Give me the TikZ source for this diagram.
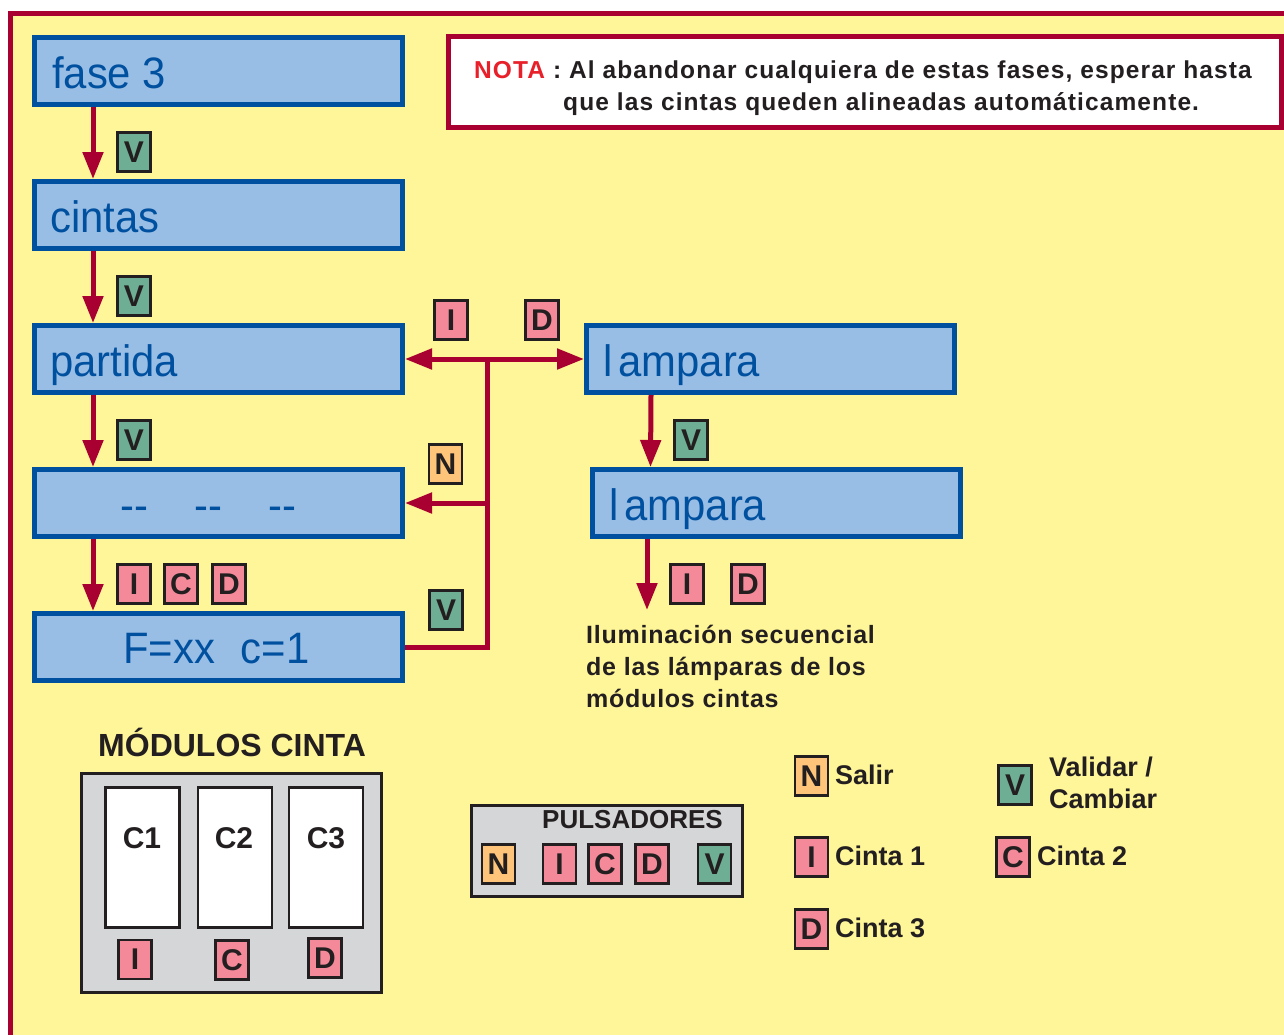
\documentclass[tikz,border=0pt]{standalone}
\usepackage{fontspec}
\setmainfont{Liberation Sans}
\newfontfamily\lcdfont[FakeStretch=0.95]{Liberation Sans}
\newfontfamily\notafont[LetterSpace=4.5]{Liberation Sans}
\newfontfamily\ilumfont[LetterSpace=3]{Liberation Sans}
\usetikzlibrary{arrows.meta}
\definecolor{framered}{RGB}{168,0,48}
\definecolor{bgyellow}{RGB}{255,245,153}
\definecolor{boxblue}{RGB}{0,80,160}
\definecolor{boxfill}{RGB}{153,190,229}
\definecolor{keyline}{RGB}{35,31,32}
\definecolor{keypink}{RGB}{244,138,153}
\definecolor{keygreen}{RGB}{110,174,148}
\definecolor{keyorange}{RGB}{253,196,122}
\definecolor{greyfill}{RGB}{213,214,216}
\definecolor{notared}{RGB}{232,32,42}
\begin{document}
\begin{tikzpicture}[x=1pt,y=-1pt,
  bluebox/.style={draw=boxblue, fill=boxfill, line width=5pt, minimum width=368pt, minimum height=67pt, inner sep=0pt},
  boxtext/.style={anchor=base west, inner sep=0pt, text=boxblue, font=\lcdfont\fontsize{44}{50}\selectfont},
  keybase/.style={draw=keyline, line width=2.5pt, minimum width=33pt, minimum height=39pt, inner sep=0pt, text=keyline, font=\bfseries\fontsize{30}{30}\selectfont},
  pinkkey/.style={keybase, fill=keypink},
  greenkey/.style={keybase, fill=keygreen},
  orangekey/.style={keybase, fill=keyorange},
  arr/.style={draw=framered, line width=5pt, -{Triangle[length=27pt,width=20pt]}},
  darr/.style={draw=framered, line width=5pt, {Triangle[length=27pt,width=20pt]}-{Triangle[length=27pt,width=20pt]}},
  redline/.style={draw=framered, line width=5pt},
  boldtext/.style={anchor=base west, inner sep=0pt, text=keyline, font=\ilumfont\bfseries\fontsize{25}{30}\selectfont},
  notatext/.style={anchor=base west, inner sep=0pt, text=keyline, font=\notafont\bfseries\fontsize{24.5}{28}\selectfont},
  legtext/.style={anchor=base west, inner sep=0pt, text=keyline, font=\bfseries\fontsize{27}{32}\selectfont},
  greybox/.style={draw=keyline, fill=greyfill, line width=3pt, inner sep=0pt},
  slot/.style={draw=keyline, fill=white, line width=2.5pt, inner sep=0pt, minimum width=74pt, minimum height=140pt}
]
\useasboundingbox (0,0) rectangle (1284,1034);
\fill[white] (0,0) rectangle (1284,1034);
\draw[draw=framered, fill=bgyellow, line width=5.5pt] (10.5,13.5) rectangle (1300,1050);

% NOTA box
\node[draw=framered, fill=white, line width=5pt, minimum width=833pt, minimum height=91pt, inner sep=0pt] (nota) at (865,82) {};
\node[notatext] (nota1) at (474,78) {\textcolor{notared}{NOTA} : Al abandonar cualquiera de estas fases, esperar hasta};
\node[notatext] (nota2) at (563,110) {que las cintas queden alineadas automáticamente.};

% blue boxes
\node[bluebox] (fase) at (218.5,71) {};
\node[bluebox] (cintas) at (218.5,215) {};
\node[bluebox] (partida) at (218.5,359) {};
\node[bluebox] (dash) at (218.5,503) {};
\node[bluebox] (fx) at (218.5,647) {};
\node[bluebox] (lamp1) at (770.5,359) {};
\node[bluebox] (lamp2) at (776,503) {};

\node[boxtext] (fasetxt) at (52,88) {fase 3};
\node[boxtext] (cintastxt) at (50,232) {cintas};
\node[boxtext] (partidatxt) at (50,376) {partida};
\node[boxtext, anchor=base] (dashtxt) at (208.5,520) {-{}-\hspace{46pt}-{}-\hspace{46pt}-{}-};
\node[boxtext] (fxtxt) at (123,663) {F=xx\hspace{26pt}c=1};
\node[boxtext] (lamp1txt) at (603,376) {l\hspace{6pt}ampara};
\node[boxtext] (lamp2txt) at (609,520) {l\hspace{6pt}ampara};

% vertical arrows
\draw[arr] ([xshift=61pt]fase.south west) -- ([xshift=61pt]cintas.north west);
\draw[arr] ([xshift=61pt]cintas.south west) -- ([xshift=61pt]partida.north west);
\draw[arr] ([xshift=61pt]partida.south west) -- ([xshift=61pt]dash.north west);
\draw[arr] ([xshift=61pt]dash.south west) -- ([xshift=61pt]fx.north west);
\draw[arr] ([xshift=67pt]lamp1.south west) -- ([xshift=61pt]lamp2.north west);
\coordinate (lampend) at (647,610);
\draw[arr] (lampend |- lamp2.south) -- (lampend);

% branching connector
\coordinate (J) at (487,359);
\draw[darr] (partida.east) -- (lamp1.west);
\draw[redline] (fx.east) -| (J);
\draw[arr] (J |- dash.east) -- (dash.east);

% keys on arrows
\node[greenkey] (v1) at (134,152) {V};
\node[greenkey] (v2) at (134,296) {V};
\node[greenkey] (v3) at (134,440) {V};
\node[pinkkey] (i1) at (134,584) {I};
\node[pinkkey] (c1) at (181,584) {C};
\node[pinkkey] (d1) at (229,584) {D};
\node[pinkkey] (i2) at (451,320) {I};
\node[pinkkey] (d2) at (542,320) {D};
\node[orangekey] (n1) at (445.5,464) {N};
\node[greenkey] (v4) at (446,610) {V};
\node[greenkey] (v5) at (691,440) {V};
\node[pinkkey] (i3) at (687,584) {I};
\node[pinkkey] (d3) at (748,584) {D};

% illumination text
\node[boldtext] (ilum1) at (586,643) {Iluminación secuencial};
\node[boldtext] (ilum2) at (586,675) {de las lámparas de los};
\node[boldtext] (ilum3) at (586,707) {módulos cintas};

% modules
\node[anchor=base west, inner sep=0pt, text=keyline, font=\bfseries\fontsize{32}{36}\selectfont] (modtitle) at (98,756) {MÓDULOS CINTA};
\node[greybox, minimum width=300pt, minimum height=219pt] (mod) at (231.5,883) {};
\node[slot] (s1) at (142.5,857.5) {};
\node[slot] (s2) at (235,857.5) {};
\node[slot] (s3) at (326,857.5) {};
\node[text=keyline, font=\bfseries\fontsize{30}{30}\selectfont, inner sep=0pt] (c1lab) at (142,838) {C1};
\node[text=keyline, font=\bfseries\fontsize{30}{30}\selectfont, inner sep=0pt] (c2lab) at (234,838) {C2};
\node[text=keyline, font=\bfseries\fontsize{30}{30}\selectfont, inner sep=0pt] (c3lab) at (326,838) {C3};
\node[pinkkey] (mi) at (135,959.5) {I};
\node[pinkkey] (mc) at (232,960) {C};
\node[pinkkey] (md) at (325,958) {D};

% pulsadores
\node[greybox, minimum width=271pt, minimum height=91pt] (puls) at (607,851) {};
\node[anchor=base west, inner sep=0pt, text=keyline, font=\bfseries\fontsize{26}{30}\selectfont] (pulstitle) at (542,828) {PULSADORES};
\node[orangekey] (pn) at (498.5,864) {N};
\node[pinkkey] (pi) at (559.5,864) {I};
\node[pinkkey] (pc) at (605,864) {C};
\node[pinkkey] (pd) at (652,864) {D};
\node[greenkey] (pv) at (714.5,864) {V};

% legend
\node[orangekey] (ln) at (811.5,776) {N};
\node[legtext] (lntxt) at (835,784) {Salir};
\node[greenkey] (lv) at (1015,785) {V};
\node[legtext] (lvtxt1) at (1049,776) {Validar /};
\node[legtext] (lvtxt2) at (1049,808) {Cambiar};
\node[pinkkey] (li) at (811.5,857) {I};
\node[legtext] (litxt) at (835,865) {Cinta 1};
\node[pinkkey] (lc) at (1013,857) {C};
\node[legtext] (lctxt) at (1037,865) {Cinta 2};
\node[pinkkey] (ld) at (811.5,929) {D};
\node[legtext] (ldtxt) at (835,937) {Cinta 3};
\end{tikzpicture}
\end{document}
